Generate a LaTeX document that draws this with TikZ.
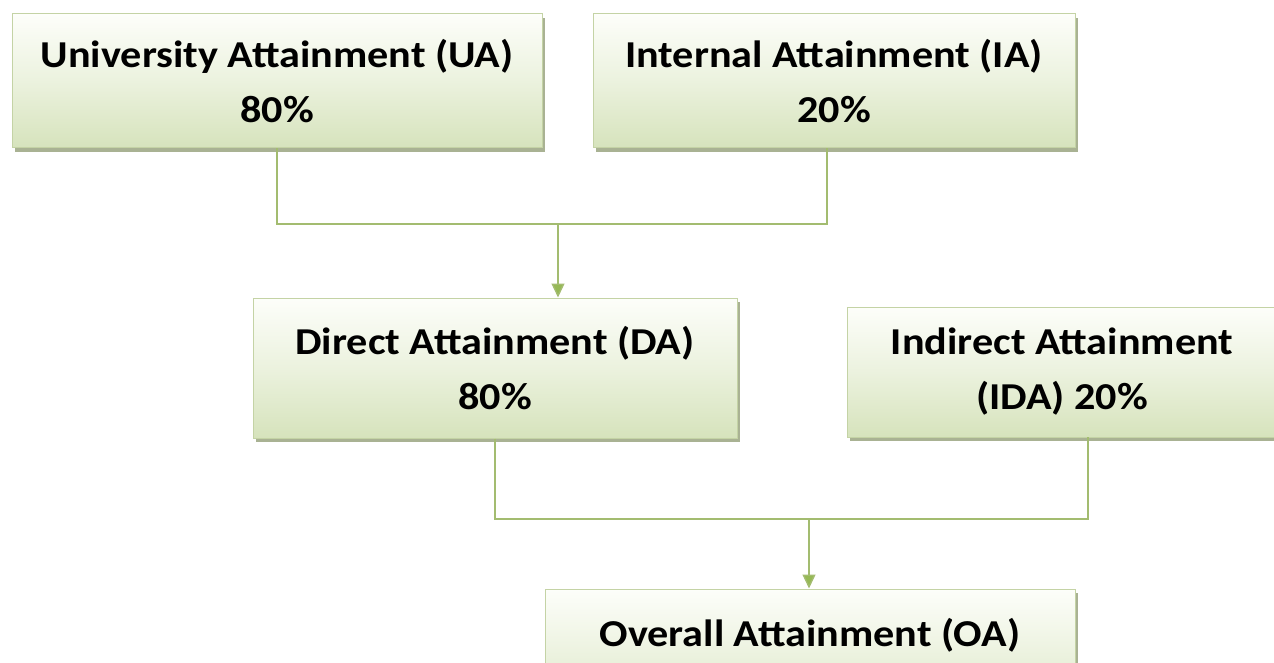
\documentclass[tikz,border=0pt]{standalone}
\usepackage{fontspec}
\setmainfont{Carlito}[BoldFeatures={FakeStretch=1.11}]
\usetikzlibrary{arrows.meta,shadows}
\definecolor{boxtop}{RGB}{253,254,250}
\definecolor{boxbot}{RGB}{214,227,188}
\definecolor{boxline}{RGB}{196,211,165}
\definecolor{shadowc}{RGB}{160,170,135}
\definecolor{connc}{RGB}{163,188,112}
\definecolor{arrowc}{RGB}{150,185,85}
\tikzset{
  box/.style={draw=boxline, line width=1pt, top color=boxtop, bottom color=boxbot,
    middle color=boxtop!55!boxbot, shading angle=0,
    drop shadow={shadow xshift=3pt, shadow yshift=-4pt, fill=shadowc, opacity=0.9},
    inner sep=0pt, align=center, font=\fontsize{38}{55}\selectfont\bfseries},
  conn/.style={draw=connc, line width=1.4pt},
  arr/.style={conn, -{Triangle[width=13pt,length=14pt,fill=arrowc]}}
}
\begin{document}
\begin{tikzpicture}[x=1pt,y=-1pt]
\useasboundingbox (0,0) rectangle (1274,663);
\clip (0,0) rectangle (1274,663);
\node[box, minimum width=530pt, minimum height=134pt] (ua) at (277,81) {University Attainment (UA)\\80\%};
\node[box, minimum width=482pt, minimum height=134pt] (ia) at (834,81) {Internal Attainment (IA)\\20\%};
\node[box, minimum width=484pt, minimum height=140pt] (da) at (495,368) {Direct Attainment (DA)\\80\%};
\node[box, minimum width=430pt, minimum height=130pt] (ida) at (1062,372) {Indirect Attainment\\(IDA) 20\%};
\node[box, minimum width=530pt, minimum height=134pt] (oa) at (810,656) {Overall Attainment (OA)\\[-8pt]\phantom{X}};
\coordinate (j1) at (558,224);
\coordinate (iab) at (827,148);
\coordinate (j2) at (809,519);
\coordinate (idab) at (1088,437);
\draw[conn] (ua.south) |- (j1) -| (iab);
\draw[arr] (j1) -- (j1 |- da.north);
\draw[conn] (da.south) |- (j2) -| (idab);
\draw[arr] (j2) -- (j2 |- oa.north);
\end{tikzpicture}
\end{document}
